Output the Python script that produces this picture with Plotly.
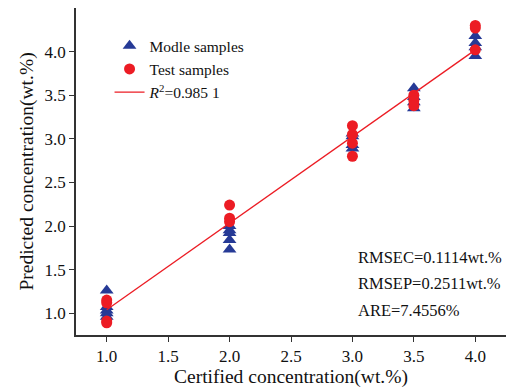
import plotly.graph_objects as go

# Data
model_x = [1.0]*5 + [2.0]*5 + [3.0]*4 + [3.5]*4 + [4.0]*4
model_y = [1.26, 1.07, 1.03, 1.00, 0.96,
           2.00, 1.95, 1.92, 1.84, 1.73,
           3.06, 3.03, 2.93, 2.89,
           3.58, 3.48, 3.42, 3.35,
           4.18, 4.10, 4.05, 3.95]
test_x = [1.0]*4 + [2.0]*3 + [3.0]*4 + [3.5]*3 + [4.0]*3
test_y = [1.15, 1.12, 0.91, 0.89,
          2.24, 2.09, 2.05,
          3.15, 3.05, 2.95, 2.80,
          3.50, 3.44, 3.38,
          4.30, 4.27, 4.02]
fit_x = [1.0, 4.0]
fit_y = [1.04, 4.02]

x_ticks = [1.0, 1.5, 2.0, 2.5, 3.0, 3.5, 4.0]
y_ticks = [1.0, 1.5, 2.0, 2.5, 3.0, 3.5, 4.0]
stats = ["RMSEC=0.1114wt.%", "RMSEP=0.2511wt.%", "ARE=7.4556%"]

FONT = "Liberation Serif, Times New Roman, serif"
BLUE = "#263a96"
RED = "#ec1c24"

fig = go.Figure()
fig.add_trace(go.Scatter(x=model_x, y=model_y, mode="markers", name="Modle samples",
                         marker=dict(symbol="triangle-up", size=12, color=BLUE)))
fig.add_trace(go.Scatter(x=test_x, y=test_y, mode="markers", name="Test samples",
                         marker=dict(symbol="circle", size=11, color=RED)))
fig.add_trace(go.Scatter(x=fit_x, y=fit_y, mode="lines",
                         name="<i>R</i><sup>2</sup>=0.985 1",
                         line=dict(color=RED, width=1.3)))

for i, s in enumerate(stats):
    fig.add_annotation(x=0.65, y=0.236 - i*0.08, xref="paper", yref="paper",
                       text=s, showarrow=False, xanchor="left", yanchor="middle",
                       font=dict(family=FONT, size=16.5, color="#111"))

axis_common = dict(showline=True, linecolor="#333", linewidth=1.5, ticks="outside",
                   ticklen=5, tickcolor="#333", tickwidth=1.2, showgrid=False,
                   zeroline=False, tickfont=dict(family=FONT, size=17, color="#111"),
                   tickformat=".1f")
fig.update_layout(
    width=506, height=388,
    margin=dict(l=76, r=0, t=8, b=53),
    paper_bgcolor="white", plot_bgcolor="white",
    showlegend=True,
    legend=dict(x=0.078, y=0.935, xanchor="left", yanchor="top",
                bgcolor="rgba(0,0,0,0)", font=dict(family=FONT, size=15.5, color="#111"),
                tracegroupgap=0, itemwidth=30),
    xaxis=dict(range=[0.75, 4.25], tickvals=x_ticks,
               title=dict(text="Certified concentration(wt.%)", standoff=7,
                          font=dict(family=FONT, size=19.5, color="#111")),
               **axis_common),
    yaxis=dict(range=[0.75, 4.5], tickvals=y_ticks,
               title=dict(text="Predicted concentration(wt.%)", standoff=6,
                          font=dict(family=FONT, size=19.5, color="#111")),
               **axis_common),
)
fig.write_html("out.html")
